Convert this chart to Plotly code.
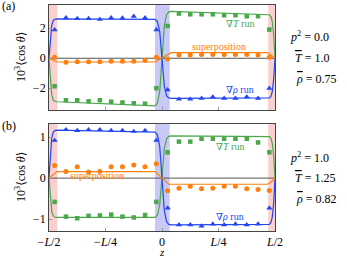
import plotly.graph_objects as go

# ---------------- data ----------------
# marker bin centres (in units of L)
z_bins = [-0.475, -0.425, -0.375, -0.325, -0.275, -0.225, -0.175, -0.125, -0.075, -0.025,
          0.025, 0.075, 0.125, 0.175, 0.225, 0.275, 0.325, 0.375, 0.425, 0.475]

# panel (a) markers
a_rho_pts = [1.9, 2.7, 2.65, 2.65, 2.6, 2.7, 2.68, 2.8, 2.7, 1.9,
             -2.1, -2.73, -2.73, -2.67, -2.58, -2.67, -2.67, -2.58, -2.67, -2.0]
a_T_pts = [-1.87, -2.8, -2.8, -2.87, -2.8, -2.9, -2.95, -3.0, -3.03, -2.0,
           2.15, 2.98, 2.93, 2.93, 2.93, 2.87, 2.87, 2.8, 2.8, 1.91]
a_sup_pts = [0.07, -0.27, -0.23, -0.23, -0.23, -0.2, -0.2, -0.2, -0.13, 0.07,
             -0.05, 0.22, 0.22, 0.25, 0.25, 0.25, 0.25, 0.25, 0.22, 0.07]

# panel (b) markers
b_rho_pts = [0.92, 1.18, 1.16, 1.18, 1.18, 1.16, 1.16, 1.14, 1.16, 0.92,
             -0.73, -1.14, -1.14, -1.17, -1.12, -1.14, -1.12, -1.14, -1.12, -0.73]
b_T_pts = [-0.58, -0.94, -0.98, -0.92, -0.91, -0.89, -0.94, -0.96, -0.90, -0.58,
           0.63, 0.89, 0.89, 0.96, 0.96, 0.96, 0.96, 0.96, 0.87, 0.63]
b_sup_pts = [0.31, 0.16, 0.28, 0.15, 0.16, 0.28, 0.28, 0.32, 0.28, 0.35,
             -0.31, -0.25, -0.2, -0.26, -0.25, -0.2, -0.2, -0.26, -0.28, -0.3]

# theory curves, sampled along z
z_line = [-0.5, -0.494, -0.488, -0.482, -0.475, -0.465, -0.04, -0.03, -0.02, -0.01, 0.0,
          0.01, 0.02, 0.03, 0.04, 0.465, 0.475, 0.482, 0.488, 0.494, 0.5]

a_rho_line = [0, 1.41, 2.17, 2.49, 2.59, 2.62, 2.62, 2.59, 2.43, 1.77, -0.03,
              -1.82, -2.49, -2.64, -2.67, -2.67, -2.64, -2.54, -2.22, -1.44, 0]
a_T_line = [0, -1.57, -2.41, -2.76, -2.87, -2.9, -3.2, -3.17, -2.98, -2.19, -0.04,
            2.11, 2.9, 3.09, 3.12, 2.93, 2.9, 2.78, 2.43, 1.58, 0]
a_sup_line = [0, -0.04, -0.085, -0.13, -0.18, -0.25, -0.25, -0.25, -0.155, -0.06, 0.04,
              0.13, 0.23, 0.32, 0.37, 0.37, 0.31, 0.22, 0.15, 0.07, 0]

b_rho_line = [0, 0.63, 0.97, 1.11, 1.16, 1.17, 1.13, 1.12, 1.05, 0.77, -0.005,
              -0.78, -1.06, -1.13, -1.14, -1.14, -1.13, -1.08, -0.95, -0.62, 0]
b_T_line = [0, -0.52, -0.80, -0.91, -0.95, -0.96, -0.97, -0.96, -0.90, -0.65, 0.03,
            0.71, 0.96, 1.02, 1.03, 1.02, 1.01, 0.97, 0.85, 0.55, 0]
b_sup_line = [0, 0.03, 0.06, 0.09, 0.13, 0.16, 0.16, 0.16, 0.108, 0.057, 0.005,
              -0.047, -0.098, -0.15, -0.15, -0.15, -0.13, -0.10, -0.075, -0.04, 0]

x_tickvals = [-0.5, -0.25, 0.0, 0.25, 0.5]
x_ticktext = ["−<i>L</i>/2", "−<i>L</i>/4", "0", "<i>L</i>/4", "<i>L</i>/2"]

OV = "<span style='text-decoration:overline'><i>{}</i></span>"
params_a = ["<i>p</i><sup>2</sup> = 0.0", OV.format("T") + " = 1.0", OV.format("ρ") + " = 0.75"]
params_b = ["<i>p</i><sup>2</sup> = 1.0", OV.format("T") + " = 1.25", OV.format("ρ") + " = 0.82"]

# ---------------- style ----------------
W, H = 347, 257
BLUE = "#2446f0"
GREEN = "#4aa84a"
ORANGE = "#ff7f0e"
PINK = "#f9cfcf"
LAV = "#c9c9f7"
FONT = "Liberation Serif, DejaVu Serif, serif"

fig = go.Figure()

panels = [
    ("x", "y", a_rho_line, a_T_line, a_sup_line, a_rho_pts, a_T_pts, a_sup_pts),
    ("x2", "y2", b_rho_line, b_T_line, b_sup_line, b_rho_pts, b_T_pts, b_sup_pts),
]

for xa, ya, rl, tl, sl, rp, tp, sp in panels:
    fig.add_trace(go.Scatter(x=[-0.5, 0.5], y=[0, 0], mode="lines",
                             line=dict(color="#555555", width=1), xaxis=xa, yaxis=ya,
                             showlegend=False, hoverinfo="skip"))
    fig.add_trace(go.Scatter(x=z_line, y=tl, mode="lines", line=dict(color=GREEN, width=1.2),
                             xaxis=xa, yaxis=ya, showlegend=False))
    fig.add_trace(go.Scatter(x=z_line, y=rl, mode="lines", line=dict(color=BLUE, width=1.2),
                             xaxis=xa, yaxis=ya, showlegend=False))
    fig.add_trace(go.Scatter(x=z_line, y=sl, mode="lines", line=dict(color=ORANGE, width=1.2),
                             xaxis=xa, yaxis=ya, showlegend=False))
    fig.add_trace(go.Scatter(x=z_bins, y=tp, mode="markers",
                             marker=dict(symbol="square", size=4.5, color=GREEN),
                             xaxis=xa, yaxis=ya, showlegend=False))
    fig.add_trace(go.Scatter(x=z_bins, y=rp, mode="markers",
                             marker=dict(symbol="triangle-up", size=5.5, color=BLUE),
                             xaxis=xa, yaxis=ya, showlegend=False))
    fig.add_trace(go.Scatter(x=z_bins, y=sp, mode="markers",
                             marker=dict(symbol="circle", size=5, color=ORANGE),
                             xaxis=xa, yaxis=ya, showlegend=False))
    for x0, x1, col in [(-0.5, -0.463, PINK), (-0.031, 0.034, LAV), (0.47, 0.5, PINK)]:
        fig.add_shape(type="rect", xref=xa, yref=ya, x0=x0, x1=x1, y0=-10, y1=10,
                      fillcolor=col, line=dict(width=0), layer="below")

xdom = [49 / W, 275 / W]
ydom_a = [1 - 110 / H, 1 - 5 / H]
ydom_b = [1 - 231 / H, 1 - 124 / H]

axis_common = dict(showgrid=False, zeroline=False, showline=True, mirror=True,
                   linecolor="#444444", linewidth=0.9, ticks="inside", ticklen=3,
                   tickcolor="#999999", tickwidth=0.8, automargin=False,
                   tickfont=dict(family=FONT, size=12, color="black"))

fig.update_layout(
    width=W, height=H, margin=dict(l=0, r=0, t=0, b=0, autoexpand=False),
    paper_bgcolor="white", plot_bgcolor="white",
    font=dict(family=FONT),
    xaxis=dict(domain=xdom, range=[-0.5, 0.5], anchor="y", tickvals=x_tickvals,
               showticklabels=False, **axis_common),
    yaxis=dict(domain=ydom_a, range=[-3.45, 3.55], anchor="x", tickvals=[-2, 0, 2],
               **axis_common),
    xaxis2=dict(domain=xdom, range=[-0.5, 0.5], anchor="y2", tickvals=x_tickvals,
                ticktext=x_ticktext, **axis_common),
    yaxis2=dict(domain=ydom_b, range=[-1.29, 1.32], anchor="x2", tickvals=[-1, 0, 1],
                **axis_common),
)

ann = []
def txt(text, x, y, xref, yref, color="black", size=10, xanchor="center", **kw):
    ann.append(dict(text=text, x=x, y=y, xref=xref, yref=yref, showarrow=False,
                    xanchor=xanchor, yanchor="middle",
                    font=dict(family=FONT, size=size, color=color), **kw))

# curve labels
txt("∇<i>T</i> run", 0.345, 2.29, "x", "y", GREEN)
txt("superposition", 0.252, 0.77, "x", "y", ORANGE)
txt("∇<i>ρ</i> run", 0.345, -2.11, "x", "y", BLUE)
txt("∇<i>T</i> run", 0.30, 0.77, "x2", "y2", GREEN)
txt("superposition", -0.288, 0.056, "x2", "y2", ORANGE)
txt("∇<i>ρ</i> run", 0.30, -0.94, "x2", "y2", BLUE)

# parameter labels
xs = [288, 292.5, 294]
for i, (ta, tb) in enumerate(zip(params_a, params_b)):
    txt(ta, xs[i] / W, 1 - (37 + 21 * i) / H, "paper", "paper", size=12, xanchor="left")
    txt(tb, xs[i] / W, 1 - (157 + 21 * i) / H, "paper", "paper", size=12, xanchor="left")

# panel tags
txt("(a)", 0, 1 - 6 / H, "paper", "paper", size=12, xanchor="left")
txt("(b)", 0, 1 - 126 / H, "paper", "paper", size=12, xanchor="left")

# y titles
for yc in [57, 177]:
    txt("10<sup>3</sup>⟨cos <i>θ</i>⟩", 20 / W, 1 - yc / H, "paper", "paper", size=12,
        textangle=-90)

# x title
txt("<i>z</i>", 162 / W, 1 - 252 / H, "paper", "paper", size=11)

fig.update_layout(annotations=ann)
fig.write_html("out.html", config={"displayModeBar": False},
               post_script="document.body.style.margin='0';document.body.style.padding='0';")
